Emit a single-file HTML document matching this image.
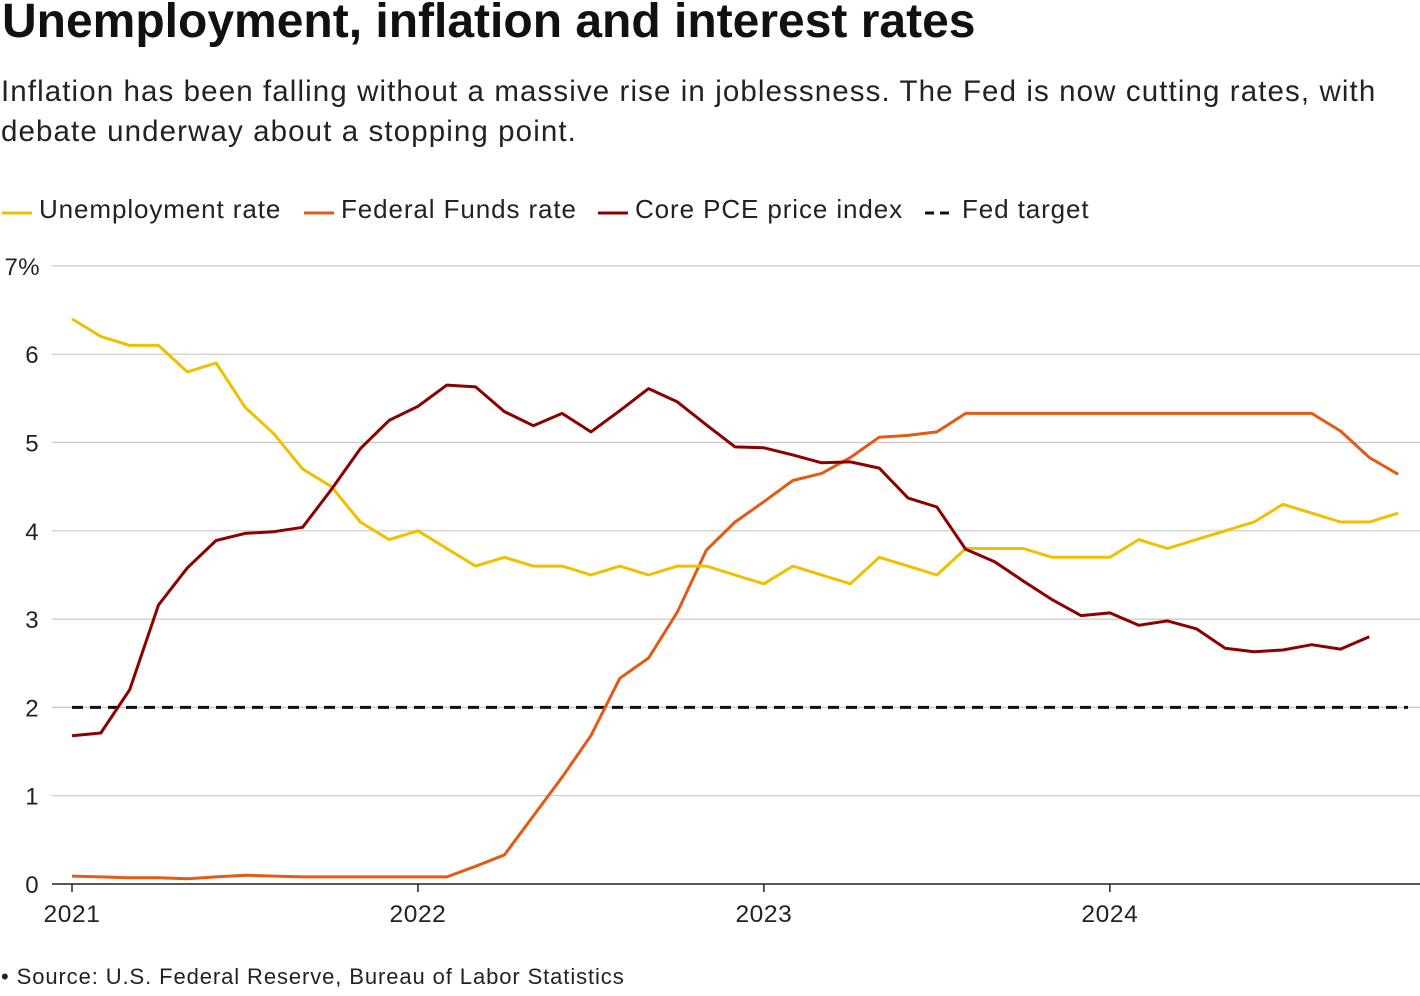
<!DOCTYPE html>
<html><head><meta charset="utf-8"><style>
body{margin:0;background:#fff;font-family:"Liberation Sans",sans-serif;color:#111;width:1420px;height:996px;overflow:hidden;position:relative}
#title{position:absolute;left:2px;top:-6px;font-size:48px;font-weight:bold;letter-spacing:0px;margin:0;white-space:nowrap}
#sub{position:absolute;left:1px;top:72px;font-size:29.5px;letter-spacing:1.1px;line-height:40px;width:1419px;margin:0;color:#222}
#src{position:absolute;left:1px;top:964px;font-size:22px;letter-spacing:0.9px;color:#222}
svg{position:absolute;left:0;top:0}
</style></head><body>
<h1 id="title">Unemployment, inflation and interest rates</h1>
<p id="sub">Inflation has been falling without a massive rise in joblessness. The Fed is now cutting rates, with debate underway about a stopping point.</p>
<div id="src">• Source: U.S. Federal Reserve, Bureau of Labor Statistics</div>
<svg id="chart" width="1420" height="996"></svg>
<script>
const yTicks=[0,1,2,3,4,5,6,7];
const yearLabels=["2021","2022","2023","2024"];
const unemployment=[6.4,6.2,6.1,6.1,5.8,5.9,5.4,5.1,4.7,4.5,4.1,3.9,4.0,3.8,3.6,3.7,3.6,3.6,3.5,3.6,3.5,3.6,3.6,3.5,3.4,3.6,3.5,3.4,3.7,3.6,3.5,3.8,3.8,3.8,3.7,3.7,3.7,3.9,3.8,3.9,4.0,4.1,4.3,4.2,4.1,4.1,4.2];
const fedFunds=[0.09,0.08,0.07,0.07,0.06,0.08,0.10,0.09,0.08,0.08,0.08,0.08,0.08,0.08,0.20,0.33,0.77,1.21,1.68,2.33,2.56,3.08,3.78,4.10,4.33,4.57,4.65,4.83,5.06,5.08,5.12,5.33,5.33,5.33,5.33,5.33,5.33,5.33,5.33,5.33,5.33,5.33,5.33,5.33,5.13,4.83,4.64];
const corePCE=[1.68,1.71,2.2,3.16,3.58,3.89,3.97,3.99,4.04,4.47,4.93,5.25,5.41,5.65,5.63,5.35,5.19,5.33,5.12,5.36,5.61,5.46,5.2,4.95,4.94,4.86,4.77,4.78,4.71,4.37,4.27,3.79,3.65,3.43,3.22,3.04,3.07,2.93,2.98,2.89,2.67,2.63,2.65,2.71,2.66,2.80];
const fedTarget=[2,2];
const NS="http://www.w3.org/2000/svg";
const svg=document.getElementById('chart');
const x=m=>72+m*28.83;
const y=v=>884-v*88.3;
function mk(t,a){const e=document.createElementNS(NS,t);for(const k in a)e.setAttribute(k,a[k]);svg.appendChild(e);return e;}
yTicks.forEach(t=>{
  const l=mk('line',{x1:52,x2:1420,y1:y(t),y2:y(t),stroke:t===0?'#222':'#c8c8c8','stroke-width':t===0?1.5:1.2});
  
  
  const tx=mk('text',{x:t===7?40:39,y:y(t)+9,'text-anchor':'end','font-size':24,'letter-spacing':0.4,fill:'#222'});
  tx.textContent=t===7?'7%':String(t);
  
  
});
yearLabels.forEach((lab,i)=>{
  const tk=mk('line',{x1:x(i*12),x2:x(i*12),y1:884,y2:892,stroke:'#222','stroke-width':1.5});
  
  
  const t=mk('text',{x:x(i*12),y:922,'text-anchor':'middle','font-size':24.5,'letter-spacing':0.6,fill:'#222'});
  t.textContent=lab;
  
  
});
function path(arr,col,name){
  const d=arr.map((v,i)=>(i?'L':'M')+x(i).toFixed(1)+','+y(v).toFixed(1)).join('');
  const p=mk('path',{d:d,fill:'none',stroke:col,'stroke-width':3,'stroke-linejoin':'round'});
  
  
}
const tl=mk('line',{x1:x(0),x2:1408,y1:y(fedTarget[0]),y2:y(fedTarget[1]),stroke:'#111','stroke-width':3,'stroke-dasharray':'11,7'});


path(fedFunds,'#e35a14','fed-funds-line');
path(unemployment,'#f0c000','unemployment-line');
path(corePCE,'#8b0000','core-pce-line');
const legend=[['Unemployment rate','#f0c000',2,false],['Federal Funds rate','#e35a14',304,false],['Core PCE price index','#8b0000',598,false],['Fed target','#111',925,true]];
legend.forEach(([lab,col,lx,dash])=>{
  const g=mk('g',{});
  
  
  const l=document.createElementNS(NS,'line');
  const a={x1:lx,x2:lx+30,y1:213,y2:213,stroke:col,'stroke-width':3};
  if(dash)a['stroke-dasharray']='9,6';
  for(const k in a)l.setAttribute(k,a[k]);
  g.appendChild(l);
  const t=document.createElementNS(NS,'text');
  t.setAttribute('x',lx+37);t.setAttribute('y',218);t.setAttribute('font-size',26);t.setAttribute('letter-spacing',0.9);t.setAttribute('fill','#222');
  t.textContent=lab;g.appendChild(t);
});
</script>
</body></html>
